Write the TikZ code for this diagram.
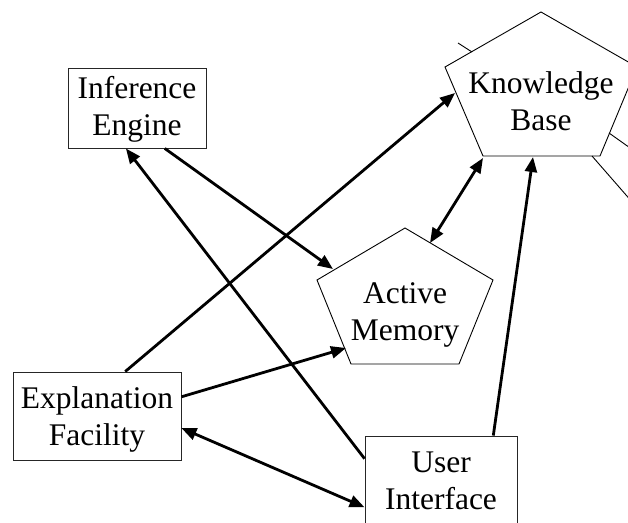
\documentclass[tikz,border=0pt]{standalone}
\usepackage{fontspec}
\setmainfont{Liberation Serif}
\usetikzlibrary{arrows.meta,calc}
\begin{document}
\begin{tikzpicture}[x=1pt,y=-1pt,
  font=\fontsize{31.5}{37}\selectfont,
  box/.style={draw=black!85, line width=0.9pt, inner sep=0pt, align=center},
  lbl/.style={inner sep=0pt, align=center},
  edge/.style={line width=0.9pt},
  arr/.style={line width=2.8pt, -{Triangle[length=15pt,width=12pt]}},
  darr/.style={line width=2.8pt, {Triangle[length=15pt,width=12pt]}-{Triangle[length=15pt,width=12pt]}}]
\useasboundingbox (0,0) rectangle (628,522);
\clip (0,0) rectangle (628,522);

% rectangular boxes
\node[box, minimum width=138pt, minimum height=80pt] (ie) at (137,108) {\rule{0pt}{25pt}Inference\\Engine};
\node[box, minimum width=168pt, minimum height=88pt] (ef) at (97,416) {\rule{0pt}{29pt}Explanation\\Facility};
\node[box, minimum width=152pt, minimum height=88pt] (ui) at (441,480) {\rule{0pt}{23pt}User\\Interface};

% Knowledge Base pentagon
\coordinate (kb1) at (541,12);
\coordinate (kb2) at (445,67);
\coordinate (kb3) at (483,156);
\coordinate (kb4) at (600,156);
\coordinate (kb5) at (637,67);
\draw[edge] (kb1) -- (kb2) -- (kb3) -- (kb4) -- (kb5) -- cycle;
\node[lbl] (kb) at (541,101) {Knowledge\\Base};

% Active Memory pentagon
\coordinate (am1) at (405,228);
\coordinate (am2) at (317,280);
\coordinate (am3) at (351,364);
\coordinate (am4) at (459,364);
\coordinate (am5) at (493,280);
\draw[edge] (am1) -- (am2) -- (am3) -- (am4) -- (am5) -- cycle;
\node[lbl] (am) at (405,314.5) {Active\\Memory};

% thin lines at the Knowledge Base
\coordinate (s1a) at (458,43);
\coordinate (s1b) at (472,52);
\coordinate (s2a) at (609,133);
\coordinate (s2b) at (640,155);
\coordinate (s3a) at (592,156);
\coordinate (s3b) at (640,211);
\draw[edge] (s1a) -- (s1b);
\draw[edge] (s2a) -- (s2b);
\draw[edge] (s3a) -- (s3b);

% arrow end points on the pentagons
\coordinate (kbA) at (455,93);
\coordinate (kbB) at (483,158);
\coordinate (kbC) at (533,157);
\coordinate (amA) at (333,269);
\coordinate (amB) at (346,348);
\coordinate (amC) at (430,243);

% connectors
\draw[arr] ($(ie.south west)!0.70!(ie.south east)$) -- (amA);
\draw[arr] ($(ui.north west)!0.26!(ui.south west)$) -- ($(ie.south west)!0.42!(ie.south east)$);
\draw[arr] ($(ef.north west)!0.667!(ef.north east)$) -- (kbA);
\draw[arr] ($(ef.north east)!0.284!(ef.south east)$) -- (amB);
\draw[darr] ($(ef.north east)!0.636!(ef.south east)$) -- ($(ui.north west)!0.807!(ui.south west)$);
\draw[darr] (amC) -- (kbB);
\draw[arr] ($(ui.north west)!0.842!(ui.north east)$) -- (kbC);
\end{tikzpicture}
\end{document}
